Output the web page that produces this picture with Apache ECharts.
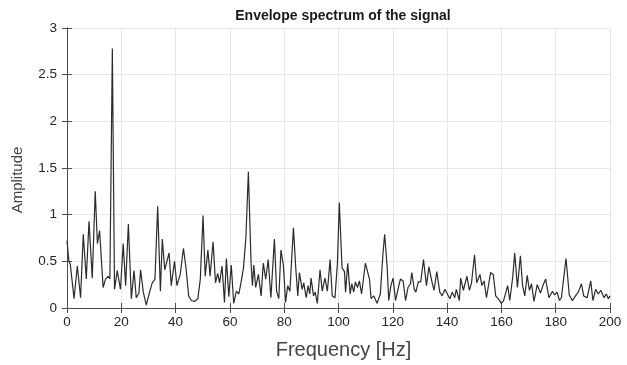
<!DOCTYPE html>
<html>
<head>
<meta charset="utf-8">
<script src="https://cdn.jsdelivr.net/npm/echarts@6/dist/echarts.min.js"></script>
<style>
  html, body { margin: 0; padding: 0; background: #fff; }
  #chart { width: 627px; height: 365px; }
</style>
</head>
<body>
<div id="chart"></div>
<script>
// Envelope spectrum samples: frequency (Hz) and amplitude
const freqHz = [
  0, 0.7, 1.2, 2.6, 3.8, 5.0, 6.0, 7.1, 8.1, 9.3, 10.4, 11.2, 12.0, 13.3, 14.2, 15.2, 15.8, 16.7, 17.5, 18.5,
  19.7, 20.7, 21.6, 22.6, 23.7, 24.7, 25.5, 26.5, 27.1, 28.1, 29.2, 30.4, 31.4, 32.4, 33.4, 34.4, 35.1, 36.0, 37.6, 38.4,
  39.6, 40.5, 41.7, 42.9, 43.9, 44.8, 45.8, 47.0, 48.2, 49.1, 50.1, 50.9, 51.9, 52.7, 53.8, 54.7, 55.5, 56.2, 57.1, 58.0,
  58.7, 59.6, 60.5, 61.4, 62.4, 63.3, 64.2, 65.0, 65.9, 66.8, 67.8, 68.3, 68.8, 69.5, 70.5, 71.5, 72.3, 73.2, 74.1, 75.1,
  76.4, 77.2, 78.0, 78.8, 79.7, 80.5, 81.3, 82.1, 83.4, 84.3, 85.0, 85.6, 86.6, 87.2, 88.1, 88.8, 89.4, 89.9, 90.8, 91.4,
  92.2, 93.2, 94.0, 95.0, 95.9, 96.9, 97.7, 98.7, 99.6, 100.3, 101.3, 102.2, 102.6, 103.4, 104.3, 104.9, 105.6, 106.2, 107.0, 107.7,
  108.5, 109.9, 110.8, 111.4, 112.0, 113.0, 114.2, 115.4, 116.4, 117.0, 117.9, 118.5, 119.3, 120.1, 121.0, 121.9, 122.8, 123.8, 124.7, 125.6,
  126.5, 127.0, 127.9, 128.5, 129.4, 130.3, 131.3, 132.4, 133.3, 134.5, 135.2, 136.2, 137.3, 138.2, 139.2, 140.1, 141.0, 141.9, 142.8, 143.4,
  144.5, 145.0, 146.0, 147.3, 148.2, 149.0, 149.6, 150.1, 150.9, 152.1, 152.8, 153.6, 154.5, 155.4, 156.0, 157.0, 157.9, 158.8, 160.0, 160.8,
  162.3, 163.1, 164.2, 164.9, 165.9, 167.0, 167.8, 168.6, 169.5, 170.3, 171.1, 172.0, 173.2, 174.4, 175.3, 176.3, 177.5, 178.8, 179.6, 180.5,
  181.4, 182.1, 182.9, 183.8, 185.0, 186.1, 187.3, 188.3, 189.5, 190.3, 191.6, 192.9, 193.7, 194.7, 195.7, 196.6, 197.8, 198.6, 199.4, 200
];
const amplitude = [
  0.72, 0.50, 0.47, 0.10, 0.45, 0.11, 0.79, 0.31, 0.93, 0.32, 1.25, 0.69, 0.83, 0.22, 0.31, 0.34, 0.31, 2.78, 0.20, 0.40,
  0.20, 0.69, 0.24, 0.90, 0.10, 0.40, 0.11, 0.16, 0.41, 0.17, 0.03, 0.17, 0.27, 0.31, 1.09, 0.18, 0.74, 0.41, 0.59, 0.24,
  0.50, 0.24, 0.36, 0.64, 0.41, 0.13, 0.08, 0.07, 0.10, 0.31, 0.99, 0.34, 0.62, 0.34, 0.71, 0.27, 0.37, 0.27, 0.45, 0.06,
  0.53, 0.12, 0.46, 0.05, 0.18, 0.15, 0.29, 0.43, 0.76, 1.46, 0.48, 0.24, 0.46, 0.22, 0.36, 0.13, 0.48, 0.31, 0.52, 0.11,
  0.74, 0.18, 0.10, 0.62, 0.46, 0.06, 0.24, 0.18, 0.86, 0.41, 0.13, 0.38, 0.20, 0.27, 0.11, 0.24, 0.15, 0.32, 0.13, 0.17,
  0.05, 0.41, 0.18, 0.32, 0.18, 0.52, 0.13, 0.11, 0.48, 1.13, 0.43, 0.39, 0.17, 0.48, 0.15, 0.26, 0.17, 0.28, 0.22, 0.29,
  0.15, 0.48, 0.38, 0.31, 0.10, 0.13, 0.05, 0.15, 0.59, 0.79, 0.45, 0.08, 0.24, 0.32, 0.08, 0.20, 0.31, 0.29, 0.08, 0.22,
  0.26, 0.38, 0.20, 0.17, 0.28, 0.28, 0.52, 0.24, 0.44, 0.27, 0.19, 0.39, 0.17, 0.13, 0.20, 0.15, 0.10, 0.17, 0.11, 0.20,
  0.08, 0.32, 0.19, 0.34, 0.19, 0.27, 0.27, 0.57, 0.27, 0.36, 0.24, 0.29, 0.11, 0.27, 0.38, 0.36, 0.13, 0.10, 0.05, 0.08,
  0.24, 0.08, 0.34, 0.59, 0.22, 0.56, 0.24, 0.13, 0.35, 0.19, 0.26, 0.07, 0.25, 0.16, 0.24, 0.31, 0.11, 0.18, 0.14, 0.17,
  0.08, 0.11, 0.31, 0.53, 0.14, 0.08, 0.13, 0.17, 0.26, 0.13, 0.11, 0.29, 0.08, 0.20, 0.15, 0.19, 0.11, 0.15, 0.10, 0.13
];

const FONT = '"Liberation Sans", Arial, sans-serif';
const frameColor = '#4d4d4d';
const gridLineColor = '#e6e6e6';

const chart = echarts.init(document.getElementById('chart'), null, { renderer: 'canvas' });

const points = freqHz.map((f, i) => [f, amplitude[i]]);

// Box-style frame: secondary axes carry the inward ticks on top and right
const boxAxis = (pos, isX) => ({
  type: 'value',
  position: pos,
  min: 0,
  max: isX ? 200 : 3,
  interval: isX ? 20 : 0.5,
  axisLine: { show: true, lineStyle: { color: frameColor, width: 1 } },
  axisTick: { show: true, inside: true, length: 5, lineStyle: { color: frameColor } },
  axisLabel: { show: false },
  splitLine: { show: false }
});

chart.setOption({
  animation: false,
  backgroundColor: '#ffffff',
  title: {
    text: 'Envelope spectrum of the signal',
    left: 338,
    top: 4,
    textAlign: 'center',
    textStyle: { fontFamily: FONT, fontSize: 14, fontWeight: 'bold', color: '#1a1a1a' }
  },
  grid: { left: 67, top: 28, right: 17, bottom: 49, containLabel: false },
  graphic: [
    {
      type: 'text',
      x: 18,
      y: 180,
      rotation: Math.PI / 2,
      style: {
        text: 'Amplitude',
        fontFamily: FONT,
        fontSize: 15,
        fill: '#444',
        align: 'center',
        verticalAlign: 'middle'
      }
    }
  ],
  xAxis: [
    {
      type: 'value',
      position: 'bottom',
      min: 0, max: 200, interval: 20,
      name: 'Frequency [Hz]',
      nameLocation: 'middle',
      nameGap: 32,
      nameTextStyle: { fontFamily: FONT, fontSize: 20, color: '#444', padding: [0, 0, 0, 10] },
      axisLine: { show: true, lineStyle: { color: frameColor, width: 1 } },
      axisTick: { show: true, inside: true, length: 5, lineStyle: { color: frameColor } },
      axisLabel: { fontFamily: FONT, fontSize: 13.5, color: '#262626', margin: 7 },
      splitLine: { show: true, lineStyle: { color: gridLineColor, width: 1 } }
    },
    boxAxis('top', true)
  ],
  yAxis: [
    {
      type: 'value',
      position: 'left',
      min: 0, max: 3, interval: 0.5,
      axisLine: { show: true, lineStyle: { color: frameColor, width: 1 } },
      axisTick: { show: true, inside: true, length: 5, lineStyle: { color: frameColor } },
      axisLabel: { fontFamily: FONT, fontSize: 13.5, color: '#262626', margin: 10 },
      splitLine: { show: true, lineStyle: { color: gridLineColor, width: 1 } }
    },
    boxAxis('right', false)
  ],
  series: [
    {
      type: 'line',
      data: points,
      xAxisIndex: 0,
      yAxisIndex: 0,
      showSymbol: false,
      symbol: 'none',
      lineStyle: { color: '#2b2b2b', width: 1.2 },
      silent: true
    }
  ]
});
</script>
</body>
</html>
